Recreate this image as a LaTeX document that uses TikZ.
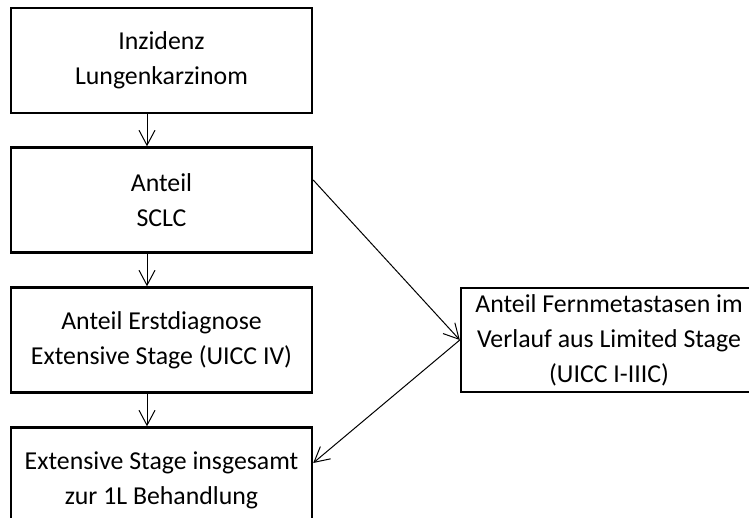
\documentclass[tikz,border=0pt]{standalone}
\usepackage{fontspec}
\setmainfont{Carlito}
\usetikzlibrary{arrows.meta,positioning}

\begin{document}
\begin{tikzpicture}
  [
    x=1pt, y=-1pt,
    Box/.style={rectangle, draw=black, line width=2.4pt, minimum width=301pt, minimum height=105pt,
      inner sep=0pt, align=center, font=\fontsize{25.8}{35}\selectfont},
    Side/.style={Box, minimum width=296pt, minimum height=104pt},
    Flow/.style={-{Straight Barb[length=15pt,width=16pt]}, draw, line width=1pt}
  ]
  \useasboundingbox (0,0) rectangle (749,517);
  % Nodes
  \node[Box] (inzidenz) at(161.5, 60.5) {Inzidenz\\Lungenkarzinom};
  \node[Box] (sclc) at(161.5, 200) {Anteil\\SCLC};
  \node[Box] (erstdiag) at(161.5, 340) {Anteil Erstdiagnose\\Extensive Stage (UICC IV)};
  \node[Box] (gesamt) at(161.5, 480) {Extensive Stage insgesamt\\zur 1L Behandlung};
  \node[Side] (fernmeta) at(609, 340) {Anteil Fernmetastasen im\\Verlauf aus Limited Stage\\(UICC I-IIIC)};
  % Lines
  \path [Flow] ([xshift=-14.5pt]inzidenz.south) -- ([xshift=-14.5pt]sclc.north);
  \path [Flow] ([xshift=-14.5pt]sclc.south) -- ([xshift=-14.5pt]erstdiag.north);
  \path [Flow] ([xshift=-14.5pt]erstdiag.south) -- ([xshift=-14.5pt]gesamt.north);
  \path [Flow] ([yshift=20pt]sclc.east) -- (fernmeta.west);
  \path [Flow] (fernmeta.west) -- ([yshift=17pt]gesamt.east);
\end{tikzpicture}
\end{document}
